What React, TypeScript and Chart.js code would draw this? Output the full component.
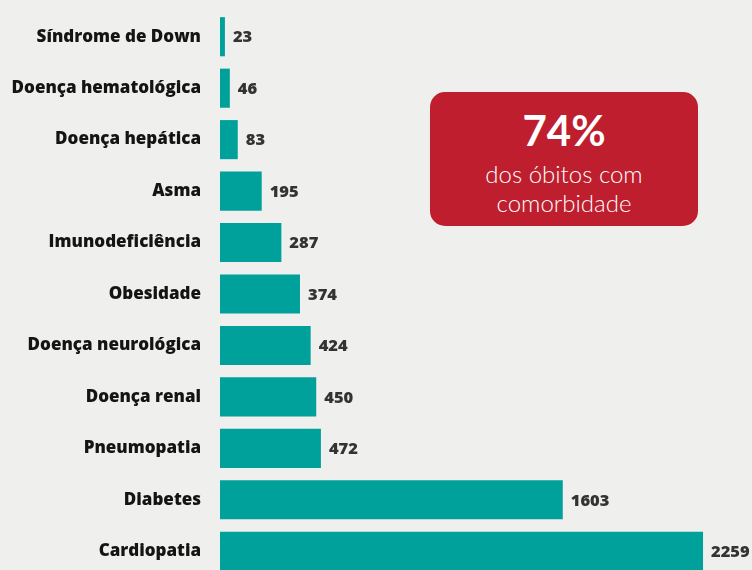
import React, { useEffect, useRef } from "react";
import { Chart, registerables } from "chart.js";

Chart.register(...registerables);

const categories = [
  "Síndrome de Down",
  "Doença hematológica",
  "Doença hepática",
  "Asma",
  "Imunodeficiência",
  "Obesidade",
  "Doença neurológica",
  "Doença renal",
  "Pneumopatia",
  "Diabetes",
  "Cardiopatia",
];
const deaths = [23, 46, 83, 195, 287, 374, 424, 450, 472, 1603, 2259];
const highlightValue = "74%";
const highlightLines = ["dos óbitos com", "comorbidade"];

const TEAL = "#00a19a";
const BG = "#efefed";

const valueLabels = {
  id: "valueLabels",
  afterDatasetsDraw(chart: any) {
    const ctx = chart.ctx;
    const meta = chart.getDatasetMeta(0);
    ctx.save();
    ctx.font = "800 16.5px 'Open Sans', sans-serif";
    ctx.fillStyle = "#333333";
    ctx.textAlign = "left";
    ctx.textBaseline = "middle";
    meta.data.forEach((bar: any, i: number) => {
      ctx.fillText(String(chart.data.datasets[0].data[i]), bar.x + 8, bar.y + 1);
    });
    ctx.restore();
  },
};

export default function App() {
  const ref = useRef<HTMLCanvasElement | null>(null);
  useEffect(() => {
    if (!ref.current) return;
    const chart = new Chart(ref.current, {
      type: "bar",
      data: {
        labels: categories,
        datasets: [
          {
            data: deaths,
            backgroundColor: TEAL,
            borderWidth: 0,
            barPercentage: 0.76,
            categoryPercentage: 1,
          },
        ],
      },
      options: {
        indexAxis: "y",
        animation: false,
        responsive: false,
        devicePixelRatio: 1,
        layout: { padding: { top: 11, bottom: 1, left: 0, right: 0 } },
        plugins: { legend: { display: false }, tooltip: { enabled: false } },
        scales: {
          x: { display: false, min: 0, max: 2488 },
          y: {
            grid: { display: false, drawTicks: false },
            border: { display: false },
            ticks: {
              color: "#141414",
              padding: 19,
              font: { family: "'Open Sans', sans-serif", weight: "800", size: 17 },
            },
            afterFit(scale: any) {
              scale.width = 220;
              scale.paddingTop = 0;
              scale.paddingBottom = 0;
            },
          },
        },
      },
      plugins: [valueLabels],
    });
    return () => chart.destroy();
  }, []);

  return (
    <div
      style={{
        position: "fixed",
        left: 0,
        top: 0,
        width: 752,
        height: 570,
        overflow: "hidden",
        background: BG,
      }}
    >
      <canvas ref={ref} width={752} height={578} style={{ display: "block", width: 752, height: 578 }} />
      <div
        style={{
          position: "absolute",
          left: 430,
          top: 92,
          width: 268,
          height: 134,
          background: "#be1e2d",
          borderRadius: 15,
          color: "#ffffff",
          textAlign: "center",
          fontFamily: "Lato, 'Open Sans', sans-serif",
        }}
      >
        <div style={{ fontSize: 42, fontWeight: 700, lineHeight: "42px", marginTop: 17 }}>{highlightValue}</div>
        <div style={{ fontSize: 24, fontWeight: 300, lineHeight: "29px", marginTop: 8 }}>
          {highlightLines[0]}
          <br />
          {highlightLines[1]}
        </div>
      </div>
    </div>
  );
}
